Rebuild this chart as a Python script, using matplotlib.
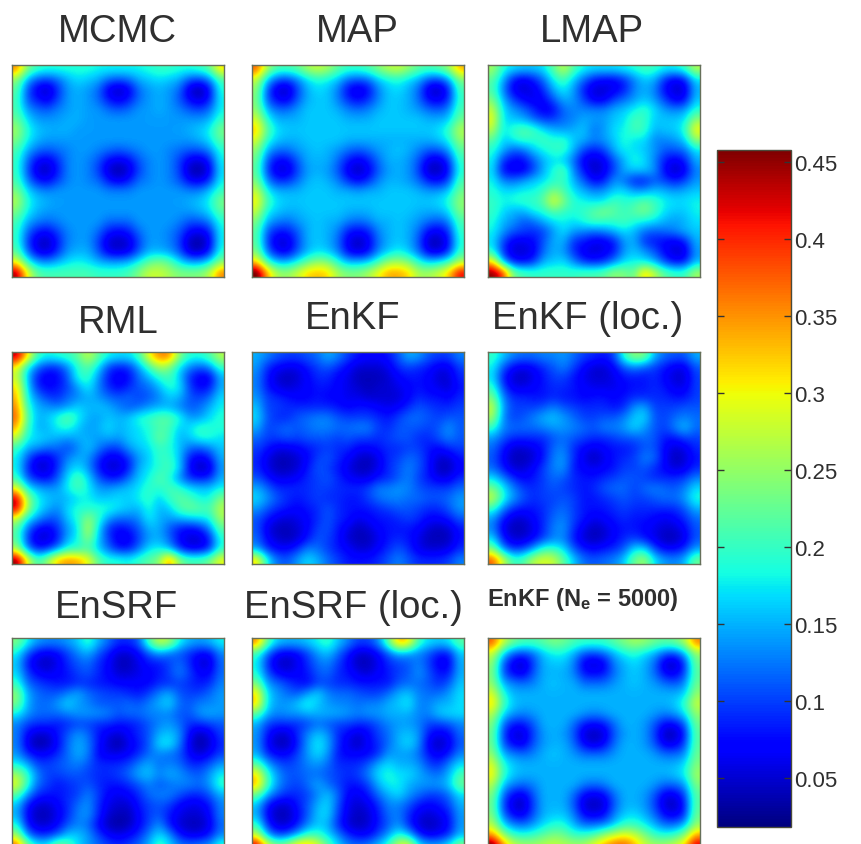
import numpy as np
import matplotlib
matplotlib.use('Agg')
import matplotlib.pyplot as plt

plt.rcParams['font.family'] = ['Liberation Sans', 'DejaVu Sans']
plt.rcParams['mathtext.fontset'] = 'custom'
plt.rcParams['mathtext.bf'] = 'Liberation Sans:bold'
plt.rcParams['mathtext.rm'] = 'Liberation Sans:bold'

# all maps, in hundredths
mcmc = [
    [36,24,20,19,19,19,19,19,18,18,18,18,18,19,20,20,19,19,20,22,32],
    [25,15,11,10,12,15,17,16,15,12,11,12,15,16,17,16,15,11,10,13,21],
    [22,11, 6, 4, 9,14,15,14,12, 6, 4, 6,12,14,15,14,12, 5, 3, 7,19],
    [21,11, 8, 6,10,14,15,14,12, 8, 6, 8,12,14,15,14,11, 7, 5, 8,18],
    [21,14,12,11,13,14,15,14,14,12,11,12,14,14,15,14,13,11,10,12,18],
    [23,17,14,14,14,15,15,14,14,14,14,14,14,14,14,14,14,14,14,15,20],
    [26,19,16,15,15,15,14,14,14,14,14,14,14,14,14,14,14,15,16,18,24],
    [24,18,15,14,14,14,14,14,14,14,14,14,14,14,14,14,14,14,15,17,22],
    [21,15,12,11,12,13,14,14,13,12,11,12,13,14,14,13,12,11,11,13,19],
    [20,12, 7, 6, 9,13,14,13,11, 7, 6, 7,11,13,14,13,10, 6, 5, 8,18],
    [20,11, 5, 4, 8,13,14,13,10, 5, 3, 5,10,13,14,13,10, 4, 3, 6,17],
    [21,13, 8, 7,10,13,14,13,12, 8, 6, 8,12,13,14,13,11, 7, 6, 9,18],
    [24,17,14,13,14,14,14,14,14,13,13,13,14,14,14,14,14,13,13,16,20],
    [27,19,16,15,14,14,14,14,14,14,14,14,14,14,14,14,14,15,16,18,24],
    [24,18,15,14,14,14,14,14,14,14,14,14,14,14,14,14,14,14,15,17,22],
    [21,15,13,12,13,14,14,14,14,12,12,12,14,14,14,14,13,11,11,13,19],
    [20,12, 8, 7,10,13,14,14,12, 8, 7, 8,12,14,14,13,11, 7, 6, 8,18],
    [20,10, 5, 4, 8,13,14,14,10, 5, 4, 5,10,14,14,13,10, 4, 3, 6,18],
    [22,12, 6, 5, 9,14,15,15,11, 6, 5, 6,11,15,15,14,11, 5, 4, 8,19],
    [30,19,14,13,15,17,18,17,15,14,14,15,18,22,24,22,17,14,14,17,24],
    [45,30,22,21,21,21,21,21,20,20,20,21,24,28,28,26,24,24,24,27,36],
]
map_est = [
    [38,26,21,21,22,26,28,26,22,20,20,21,24,27,28,25,22,21,22,25,34],
    [28,16,11,10,13,17,19,18,16,12,11,12,16,18,19,17,15,11,10,14,24],
    [25,11, 5, 4,10,15,17,16,13, 7, 5, 7,13,16,17,15,12, 5, 4, 8,21],
    [24,11, 7, 6,11,15,16,16,13, 9, 7, 9,13,16,16,15,12, 7, 6, 9,20],
    [25,15,12,12,14,16,16,16,15,13,12,13,15,16,16,15,14,12,11,13,21],
    [29,19,15,15,15,16,16,16,16,15,15,15,16,16,16,16,16,15,15,16,23],
    [33,22,17,16,16,16,16,16,16,16,16,16,16,16,16,16,16,16,17,20,27],
    [29,19,16,15,15,16,16,16,16,15,15,15,15,15,15,15,15,15,16,18,25],
    [25,15,12,12,14,15,16,15,14,12,11,12,14,15,16,15,13,11,11,14,22],
    [23,11, 7, 7,11,15,15,15,12, 8, 6, 8,12,15,15,14,11, 6, 5, 9,20],
    [22,10, 5, 5,10,14,15,14,11, 6, 4, 6,11,14,15,14,10, 4, 4, 7,19],
    [24,13, 9, 9,12,15,16,15,13, 9, 7, 9,13,15,15,14,12, 8, 7,10,21],
    [28,18,15,15,15,16,16,16,15,15,14,15,15,16,16,16,15,14,14,16,23],
    [31,21,17,16,16,16,16,16,16,16,16,16,16,16,16,16,16,16,17,19,25],
    [28,18,16,15,15,16,16,16,16,15,15,15,16,16,16,16,15,15,15,17,24],
    [24,15,13,12,14,15,16,15,15,13,12,13,15,15,16,15,14,12,11,13,21],
    [22,11, 8, 8,11,15,16,15,13, 8, 7, 8,13,15,16,15,12, 7, 6, 9,20],
    [22,10, 5, 5,10,15,16,15,12, 6, 4, 6,12,15,16,15,11, 4, 4, 7,19],
    [24,12, 7, 6,11,15,17,16,13, 7, 5, 7,13,16,18,16,12, 6, 5, 9,20],
    [32,20,15,15,18,22,25,24,19,15,15,16,20,25,26,24,19,16,17,20,26],
    [48,34,26,25,28,32,33,32,26,24,24,26,30,34,34,32,26,26,28,32,42],
]
lmap = [
    [26,19,17,16,16,17,22,28,21,18,17,17,17,18,19,21,20,18,18,20,27],
    [22,15, 8, 6, 8,12,18,21,16,12, 8, 7, 7, 9,13,16,15, 9, 6, 8,17],
    [21,13, 6, 5, 6, 9,15,18,14, 8, 5, 5, 6, 8,13,15,13, 7, 5, 5,15],
    [24,15,10, 7, 6, 7,11,15,14,10, 6, 6,10,12,14,16,14,10, 6, 7,16],
    [28,17,14,12, 9, 6, 7,12,13,13,13,13,15,16,18,20,17,14,13,14,19],
    [30,17,16,15,12,10,10,12,13,15,14,14,16,17,21,20,16,16,16,17,25],
    [27,17,20,22,21,17,15,14,15,16,12,14,17,18,21,20,15,16,16,19,31],
    [22,16,18,20,19,21,19,20,16,15,13,14,16,19,17,17,13,13,14,16,25],
    [19,15,11,12,16,18,20,20,15,10, 8,10,15,18,17,16,14,11,11,12,17],
    [18, 9, 7, 7,11,15,17,16,12, 6, 5, 6,11,15,19,17,13, 8, 6, 8,15],
    [17, 7, 6, 6,10,15,19,22,13, 8, 4, 6,10,15,16,16,14, 7, 4, 6,13],
    [18,13,12,14,16,17,19,20,15,11, 7, 8,14,12, 8, 8,11,10, 8,10,14],
    [19,17,17,18,18,20,24,21,17,15,13,14,16,17,14,14,16,15,14,15,16],
    [20,18,19,20,20,22,30,24,19,18,17,17,21,19,20,22,20,18,17,17,18],
    [20,17,15,15,18,19,22,20,19,20,22,24,22,20,22,24,21,17,16,16,18],
    [19,15,14,11,12,15,17,18,17,19,21,20,20,21,19,18,17,15,14,15,17],
    [18,14,11,10, 9,10,14,17,14,13,12,13,15,17,15,12,11,12,13,15,16],
    [17,10, 6, 6, 7,11,15,15, 9, 8, 6, 6, 8,14,15, 9, 8, 7, 6, 8,15],
    [19, 9, 5, 5, 6,12,15,14, 9, 6, 5, 6, 8,14,16,14,11, 7, 5, 5,14],
    [32,14, 8, 7, 9,15,16,17,13, 9, 8, 9,13,17,18,17,15,10, 7, 8,15],
    [46,40,23,21,20,20,20,20,20,21,21,22,25,24,22,33,27,22,20,20,26],
]
rml = [
    [44,32,20,18,19,20,22,28,22,18,17,17,20,30,36,36,24,19,19,21,27],
    [30,18,12, 9, 9,13,19,22,17,10, 8, 9,14,20,26,24,17,13,11,13,20],
    [28,16, 8, 6, 7,11,19,20,14, 8, 6, 7,12,15,19,21,16, 9, 6, 6,15],
    [32,17, 9, 7, 8,10,14,18,13, 9, 7, 9,11,12,15,19,18,10, 7, 8,15],
    [34,18,13,10, 9,12,13,15,14,12,11,12,10,11,13,16,15,11,10,12,17],
    [36,20,15,14,13,14,17,15,16,15,13,11,12,14,15,15,13,11,12,15,18],
    [38,22,15,16,19,23,18,15,14,16,15,16,19,20,22,22,19,14,14,17,19],
    [34,20,15,15,18,19,16,14,15,17,15,16,17,19,21,21,16,17,20,19,19],
    [28,18,17,16,15,14,15,15,14,15,14,16,17,18,23,20,15,16,19,19,17],
    [20,15,14,12,12,10,13,16,13,10,10,14,16,17,20,19,16,12,11,13,16],
    [18,11, 6, 6, 9,13,15,14, 9, 6, 6, 9,14,16,20,20,16, 8, 6, 8,15],
    [18, 9, 5, 5, 9,15,17,14, 8, 5, 5, 8,15,17,19,21,17, 7, 4, 5,14],
    [20,11, 8, 7,11,17,22,17,11, 8, 8,12,16,18,22,19,13, 9, 8, 9,15],
    [30,18,15,14,14,18,21,18,14,14,15,16,17,20,19,21,20,17,16,16,18],
    [44,26,18,16,15,15,17,18,16,16,17,16,18,20,16,20,22,21,18,18,24],
    [44,26,18,15,13,17,19,19,19,19,17,16,15,19,15,16,21,23,22,21,27],
    [28,18,14,11,11,16,19,25,20,14,12,12,13,18,15,14,15,16,17,18,26],
    [22,12, 7, 6, 9,14,17,28,17, 9, 7, 8,11,15,15,11, 8, 7, 8,13,22],
    [22,10, 5, 5, 8,15,18,25,16,10, 6, 6,10,14,15,12, 7, 5, 5, 8,19],
    [26,13, 8, 9,13,19,19,21,16,12, 8, 8,12,17,18,15, 9, 6, 6, 9,19],
    [46,30,20,25,33,35,34,30,22,19,19,18,20,22,24,36,24,21,21,23,30],
]
enkf = [
    [15,13,11,10,10,11,12,15,13,10, 8, 7, 7, 8,11,15,14,11,10,10,13],
    [14, 9, 7, 6, 6, 8,10,11, 9, 7, 5, 5, 5, 6, 9,10, 9, 8, 6, 6,10],
    [13, 8, 5, 4, 5, 7, 9, 9, 7, 6, 4, 4, 4, 5, 7, 8, 8, 7, 5, 5, 9],
    [13, 8, 6, 5, 6, 7, 8, 8, 7, 6, 5, 4, 5, 5, 6, 7, 8, 7, 6, 5, 8],
    [14,10, 9, 8, 7, 7, 8, 7, 7, 6, 6, 5, 5, 5, 5, 7, 9, 8, 8, 7, 9],
    [16,10,10, 9, 9, 9, 9, 9, 8, 7, 8, 8, 7, 6, 7, 9,11,10, 9, 9,10],
    [17,11, 9, 9,11,12,13,13,11,10,10,10, 9, 8,10,12,12,11,10,11,11],
    [15,10,11,12,11,12,13,13,12,12,13,13,10, 9,11,11,11,10,11,14,11],
    [12,10,10,11,10,11,11,11,10,11,10,10, 9,10,11,11, 9, 9,11,13,11],
    [10, 8, 6, 6, 7, 8, 9,10, 9, 9, 7, 7, 8, 9, 9,10,10, 8, 7, 9,10],
    [ 9, 6, 4, 4, 5, 7,10,11, 9, 7, 5, 4, 6, 9,10,12,11, 8, 5, 5, 8],
    [ 9, 6, 4, 4, 5, 8,11,10, 8, 6, 4, 4, 6, 9,11,13,11, 8, 4, 4, 7],
    [11, 8, 6, 6, 7, 9,10,11, 9, 7, 6, 6, 8, 9,11,13,10, 8, 6, 6, 9],
    [15,12, 9, 9, 9, 9,10,10, 9, 9, 9,10,13,13,14,13,11,10,10,10,12],
    [17,14,11, 9, 8, 9,10, 9, 9, 8, 8,10,12,13,13,12,12,11,11,12,14],
    [14,11, 9, 8, 7, 8, 9,11, 9, 8, 8, 8, 9,10,11,11,10, 9, 9,11,14],
    [11, 8, 6, 5, 6, 7, 9,11, 9, 8, 6, 7, 8, 8, 9,10, 9, 7, 7, 8,11],
    [11, 6, 4, 4, 5, 7,10,11, 8, 6, 4, 5, 7, 8, 8, 8, 7, 5, 4, 5, 8],
    [12, 7, 5, 4, 5, 8,11,10, 8, 5, 4, 4, 6, 8, 9, 8, 6, 4, 4, 4, 8],
    [14, 9, 7, 7, 9,13,12,10, 8, 7, 5, 5, 7, 9,11, 9, 6, 5, 5, 6, 9],
    [32,18,12,11,14,17,15,12,10, 8, 8, 8, 9,11,13,11, 9, 9, 9,10,13],
]
enkf_loc = [
    [20,16,13,12,12,13,13,14,12,10, 9, 8,10,20,25,24,15,12,11,11,15],
    [18,11, 7, 6, 7, 9,11,13,10, 7, 5, 5, 7,11,13,11,10, 8, 6, 6,11],
    [17, 8, 5, 4, 6, 8,10,10, 8, 6, 5, 5, 6, 8, 8, 8, 9, 7, 5, 5,10],
    [20,10, 6, 6, 7, 8, 9, 9, 8, 7, 6, 6, 6, 7, 8, 8, 9, 8, 6, 6,10],
    [24,13, 9, 9, 8, 8, 9, 8, 8, 7, 8, 8, 7, 8, 9, 9, 9, 9, 8, 8,10],
    [28,14,10,10,10,11,13,11,10, 9, 9, 9, 8, 9,14,15,10,10,10,11,11],
    [26,13,10,11,13,15,16,14,12,10,10,11,11,13,16,17,11,10,12,13,12],
    [20,13,12,12,12,13,14,14,13,12,11,13,13,14,17,14,11,10,13,16,12],
    [14,11, 9, 9, 9, 9,11,12,11,10, 9, 9,10,11,11,12,11, 8, 8,10,10],
    [12, 8, 5, 5, 6, 8,12,13, 9, 7, 6, 7, 8, 8, 9,11,11, 7, 5, 6, 9],
    [11, 7, 4, 4, 5, 8,13,14, 9, 6, 4, 6, 8, 9,10,13,12, 7, 4, 5, 8],
    [12, 8, 5, 5, 7,10,13,14, 8, 7, 6, 7, 8,10,10,11, 9, 7, 5, 6, 9],
    [17,13, 9, 7, 8,10,12,11, 9, 8, 8, 9,10,11,11,10, 9, 9, 9,10,13],
    [24,18,13,10, 9,10,11,10, 9, 8, 9,11,12,12,10,12,13,12,11,13,17],
    [28,19,14,11, 9,10,10,11,10, 8, 8, 9,10,11,10,10,11,12,12,14,19],
    [20,13, 9, 8, 8, 9,11,12,10, 8, 8, 8, 9,10, 9, 9, 9, 9, 9,11,15],
    [14, 8, 5, 5, 7, 9,12,13,10, 8, 6, 7, 8, 9, 8, 8, 7, 6, 7, 9,12],
    [13, 6, 4, 4, 6, 9,13,14, 9, 6, 4, 5, 7, 8, 8, 7, 6, 5, 5, 7,11],
    [17, 8, 5, 5, 7,10,13,13, 8, 5, 4, 5, 7, 9,10, 8, 6, 4, 4, 6,11],
    [24,13, 9,10,14,20,20,17,11, 8, 7, 8, 9,11,17,17,10, 7, 7, 9,14],
    [38,28,20,21,27,29,28,22,16,12,11,12,13,16,23,26,17,14,13,15,23],
]
ensrf = [
    [24,18,14,13,13,14,16,20,15,12, 9, 9,11,21,28,26,18,15,14,15,18],
    [18,11, 7, 6, 7,10,13,15,11, 8, 5, 5, 7,11,14,12,11, 9, 7, 7,13],
    [16, 8, 5, 4, 6, 9,11,12, 9, 7, 4, 4, 6, 8, 8,10,12, 9, 5, 5,12],
    [17,10, 7, 6, 7, 8,10,11, 9, 7, 5, 5, 6, 7, 8,10,13,10, 7, 7,12],
    [20,12,10, 9, 8, 8, 9, 9, 8, 8, 7, 7, 7, 7, 9, 9,10, 9, 8, 9,13],
    [25,15,12,11,11,13,15,12,11,10,10, 9, 8,10,13,15,11,10,10,12,14],
    [24,15,12,12,14,17,14,13,11,11,11,12,11,13,15,17,12,11,13,13,14],
    [18,14,12,12,12,13,14,14,14,13,11,12,12,13,13,13,11,11,14,15,14],
    [13,10, 9, 9, 8, 9,10,10, 9, 9, 8, 8, 9,11,13,14,12, 9, 9,10,11],
    [13, 7, 5, 5, 8,11,14,12, 8, 6, 5, 7, 9,11,15,16,14, 7, 4, 6,10],
    [13, 6, 3, 4, 7,12,15,13, 8, 5, 3, 6, 8,11,17,18,13, 6, 3, 5, 9],
    [14, 9, 7, 7, 9,12,15,13, 7, 6, 6, 7, 9,12,13,12,11, 7, 5, 7,10],
    [18,15,10,10,11,12,13,11, 9, 9, 9,10,13,15,12,13,12, 9, 9,11,14],
    [26,20,13,10,10,11,11,10, 9, 9,10,12,15,16,13,15,14,12,11,14,18],
    [30,20,12,10, 8, 9,10,11, 9, 8, 8, 9,11,13,11,12,13,13,12,14,20],
    [22,14, 9, 8, 8, 9,10,13,10, 7, 6, 7, 9,12,13,13,11, 9, 9,11,15],
    [16, 8, 5, 5, 7, 9,12,14, 9, 6, 5, 5, 8,10,11,10, 7, 6, 6, 8,13],
    [15, 7, 4, 4, 6, 9,13,14, 9, 5, 4, 4, 7,10,11, 8, 6, 5, 5, 7,13],
    [19, 8, 5, 5, 7,11,13,12, 7, 4, 3, 4, 7,10,14, 8, 5, 4, 4, 6,12],
    [26,13, 9, 9,11,16,16,14,10, 7, 6, 7, 9,13,17,14, 8, 6, 6, 8,13],
    [38,24,18,18,25,22,17,14,12,10, 9,10,12,15,21,17,13,12,13,14,20],
]
ensrf_loc = [
    [36,22,16,15,15,16,18,20,16,13,10,10,13,22,34,32,20,17,16,17,22],
    [20,12, 7, 6, 7,10,14,16,12, 8, 5, 5, 7,11,15,14,13,11, 8, 8,16],
    [18, 9, 5, 4, 6, 9,12,13,10, 7, 4, 4, 6, 9,10,11,13,10, 6, 6,15],
    [19,11, 7, 6, 7, 8,11,12, 9, 8, 6, 5, 7, 8,10,11,14,11, 8, 8,15],
    [24,14,12,10, 8, 7,10,10, 9, 9, 8, 8, 8, 8,11,12,12,11, 9,11,16],
    [32,17,14,12,11,14,17,13,12,12,11,10,10,12,15,16,13,12,12,14,17],
    [33,17,14,14,16,19,16,14,13,13,12,13,13,15,16,18,13,13,15,15,17],
    [22,15,13,14,14,15,15,15,15,14,13,14,14,15,15,15,13,13,16,17,17],
    [15,10, 9, 9, 9,10,12,11,10,10, 9, 9,11,13,14,14,13,10,10,11,13],
    [14, 8, 5, 5, 9,13,16,14, 9, 7, 5, 7,10,12,15,16,14, 8, 6, 7,12],
    [14, 7, 4, 4, 8,14,18,15, 9, 6, 4, 7, 9,12,15,17,14, 6, 4, 6,11],
    [15, 9, 7, 7,10,14,17,14, 8, 7, 7, 7, 9,14,14,14,12, 8, 6, 8,13],
    [22,15,11,10,11,13,14,12, 9, 9, 9,11,15,17,15,15,14,10, 9,13,17],
    [32,20,14,11,11,12,12,11,10, 9,10,13,17,19,17,17,15,13,12,15,21],
    [34,21,14,11,10,12,15,12,10, 8, 8,10,15,18,18,15,14,14,14,16,23],
    [23,15,11, 9, 9,10,13,16,12, 7, 6, 8,12,15,17,14,12,10,10,12,17],
    [16, 8, 5, 5, 8,11,15,17,11, 6, 5, 6, 9,13,13,11, 8, 7, 8,10,15],
    [15, 7, 4, 4, 7,11,16,17,10, 6, 4, 5, 8,12,13, 9, 6, 5, 6, 8,14],
    [20, 9, 5, 5, 8,13,16,15, 9, 5, 4, 5, 8,11,14, 9, 5, 4, 5, 7,14],
    [28,15,10,11,15,20,20,17,13, 9, 7, 7,10,14,19,16, 9, 6, 7, 9,15],
    [44,30,24,26,33,34,30,22,17,13,12,13,16,20,29,31,18,15,15,18,25],
]
enkf_5000 = [
    [38,28,23,21,21,22,24,23,21,20,20,20,22,24,26,25,23,22,23,26,36],
    [28,17,11,10,12,16,18,18,15,11,10,12,15,18,19,17,15,11,10,15,25],
    [25,11, 6, 4,10,15,16,16,13, 6, 5, 6,13,15,17,15,12, 5, 4, 9,23],
    [24,11, 7, 6,11,15,15,15,13, 8, 7, 8,12,15,16,15,12, 7, 6,10,22],
    [25,15,13,12,13,15,16,15,15,12,12,12,14,15,16,15,14,12,11,13,23],
    [29,19,15,15,15,15,15,15,15,15,15,15,15,15,15,15,15,15,15,16,25],
    [32,21,16,15,15,15,15,15,15,15,15,15,15,15,15,15,15,15,16,20,28],
    [27,17,14,13,14,15,15,15,15,14,13,14,15,15,15,15,14,13,14,17,25],
    [24,12, 8, 8,11,15,15,15,12, 8, 7, 8,12,15,15,14,11, 7, 7,11,23],
    [23,10, 5, 5,10,14,15,14,11, 5, 4, 5,11,14,15,14,10, 4, 4, 8,22],
    [23,11, 7, 6,11,14,15,15,12, 7, 5, 7,12,15,15,14,11, 6, 6,10,22],
    [25,15,13,12,13,15,16,15,14,12,12,12,14,15,15,15,14,12,12,13,23],
    [29,19,16,15,15,15,15,15,15,15,15,15,15,15,15,15,15,15,15,17,24],
    [31,20,16,15,15,15,15,15,15,15,15,15,15,15,15,15,15,15,16,18,26],
    [27,16,13,12,13,15,15,15,15,13,12,13,15,15,15,15,14,12,12,14,24],
    [24,12, 7, 6,11,15,15,15,12, 7, 6, 7,12,15,15,14,11, 6, 6,10,22],
    [23,10, 5, 4,10,15,15,15,11, 5, 4, 5,11,15,15,14,10, 5, 4, 8,22],
    [24,12, 7, 6,11,15,16,16,13, 7, 6, 7,13,16,17,15,12, 7, 6, 9,23],
    [27,17,13,12,14,17,19,19,15,12,12,13,16,20,20,18,15,12,12,15,25],
    [35,25,20,19,20,22,24,23,20,20,21,25,28,30,28,24,20,19,20,24,34],
    [48,36,28,26,26,27,28,27,26,26,30,34,37,38,34,28,26,26,28,32,44],
]

cbar_ticks = [0.05, 0.1, 0.15, 0.2, 0.25, 0.3, 0.35, 0.4, 0.45]
cbar_labels = ['0.05', '0.1', '0.15', '0.2', '0.25', '0.3', '0.35', '0.4', '0.45']

W, H = 861, 845
fig = plt.figure(figsize=(W/100, H/100), dpi=100)

def px_axes(x0, y0, x1, y1):
    # box given in image pixels, y going down
    return fig.add_axes([x0/W, 1 - y1/H, (x1 - x0)/W, (y1 - y0)/H])

def px_text(x, y, s, size, **kw):
    fig.text(x/W, 1 - y/H, s, fontsize=size, ha='center', color='#2f2f2f', **kw)

# (grid, title, left px, top px, title x, title baseline)
panels = [
    (mcmc, 'MCMC', 12, 66, 117, 42),
    (map_est, 'MAP', 252, 66, 357, 42),
    (lmap, 'LMAP', 488, 66, 592, 42),
    (rml, 'RML', 12, 353, 118, 333),
    (enkf, 'EnKF', 252, 353, 353, 329),
    (enkf_loc, 'EnKF (loc.)', 488, 353, 588, 329),
    (ensrf, 'EnSRF', 12, 639, 116, 618),
    (ensrf_loc, 'EnSRF (loc.)', 252, 639, 353, 618),
    (enkf_5000, None, 488, 639, None, None),
]

cmap = plt.get_cmap('jet', 256)
vmin, vmax = 0.018, 0.458

for grid, title, x0, y0, tx, ty in panels:
    ax = px_axes(x0, y0, x0 + 212, y0 + 212)
    im = ax.imshow(np.array(grid)/100, cmap=cmap, vmin=vmin, vmax=vmax,
                   interpolation='bicubic', aspect='auto')
    ax.set_xticks([])
    ax.set_yticks([])
    for sp in ax.spines.values():
        sp.set_color('#66705a')
        sp.set_linewidth(1.0)
    if title:
        px_text(tx, ty, title, 27.5)

px_text(583, 606, r'EnKF ($\mathbf{N_e}$ = 5000)', 17, fontweight='bold')

cax = px_axes(717, 151, 791, 828)
cb = fig.colorbar(im, cax=cax)
cb.set_ticks(cbar_ticks)
cb.set_ticklabels(cbar_labels)
cb.outline.set_edgecolor('#4a4a3a')
cb.outline.set_linewidth(1.0)
cax.tick_params(axis='y', direction='in', left=True, right=True, length=5,
                width=1, color='#333333', labelsize=16, pad=2,
                labelcolor='#2f2f2f')

fig.savefig('out.png', dpi=100)
